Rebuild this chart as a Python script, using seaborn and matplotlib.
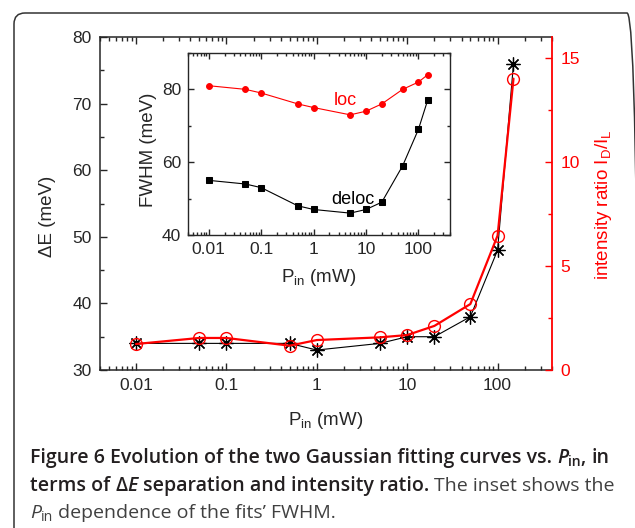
import matplotlib
matplotlib.use("Agg")
import matplotlib.pyplot as plt
import seaborn as sns
from matplotlib.patches import FancyBboxPatch
from matplotlib.transforms import IdentityTransform
from matplotlib.ticker import MultipleLocator, LogLocator, NullFormatter

# power values (mW), shared by main plot and inset
p_in = [0.01, 0.05, 0.1, 0.5, 1, 5, 10, 20, 50, 100, 150]
# main plot: peak separation and intensity ratio
delta_e = [34, 34, 34, 34, 33, 34, 35, 35, 38, 48, 76]
ratio = [1.25, 1.54, 1.54, 1.17, 1.44, 1.57, 1.68, 2.12, 3.17, 6.46, 14.0]
# inset: FWHM of both fits
fwhm_loc = [81, 80, 79, 76, 75, 73, 74, 76, 80, 82, 84]
fwhm_deloc = [55, 54, 53, 48, 47, 46, 47, 49, 59, 69, 77]
x_ticks = [0.01, 0.1, 1, 10, 100]
x_tick_labels = ["0.01", "0.1", "1", "10", "100"]

sns.set_style("ticks")
plt.rcParams['font.family'] = ['Liberation Sans', 'DejaVu Sans']
plt.rcParams['mathtext.fontset'] = 'custom'
plt.rcParams['mathtext.rm'] = 'Liberation Sans'
plt.rcParams['mathtext.it'] = 'Liberation Sans:italic'

fig = plt.figure(figsize=(6.35, 5.28), dpi=100)
ax = fig.add_axes([0.1575, 0.2992, 0.7118, 0.6307])
ax2 = ax.twinx()


def style_log_x(a):
    a.set_xscale('log')
    a.set_xlim(0.004, 400)
    a.set_xticks(x_ticks)
    a.set_xticklabels(x_tick_labels)
    a.xaxis.set_minor_locator(LogLocator(base=10, subs=range(2, 10), numticks=20))
    a.xaxis.set_minor_formatter(NullFormatter())


# main curves
sns.lineplot(x=p_in, y=delta_e, ax=ax, color='black', lw=0.8,
             marker=(8, 2, 0), markersize=10, markeredgecolor='black',
             markeredgewidth=0.9)
sns.lineplot(x=p_in, y=ratio, ax=ax2, color='red', lw=1.6,
             marker='o', markersize=8.5, markerfacecolor='none',
             markeredgecolor='red', markeredgewidth=1.0)

style_log_x(ax)
ax.set_ylim(30, 80)
ax.yaxis.set_major_locator(MultipleLocator(10))
ax.yaxis.set_minor_locator(MultipleLocator(5))
ax.tick_params(which='both', direction='in', top=True, right=False,
               labelsize=12.5, pad=6, width=1)
ax.tick_params(which='major', length=5)
ax.tick_params(which='minor', length=3)
ax.set_xlabel(r'P$_{\mathrm{in}}$ (mW)', fontsize=13.5)
ax.xaxis.set_label_coords(0.5, -0.12)
ax.set_ylabel('ΔE (meV)', fontsize=13.5)
ax.yaxis.set_label_coords(-0.097, 0.46)
for s in ax.spines.values():
    s.set_linewidth(1.1)
ax.spines['right'].set_visible(False)

ax2.set_ylim(0, 16)
ax2.yaxis.set_major_locator(MultipleLocator(5))
ax2.yaxis.set_minor_locator(MultipleLocator(2.5))
ax2.tick_params(which='both', direction='in', colors='red', labelsize=12.5,
                pad=6, width=1)
ax2.tick_params(which='major', length=5)
ax2.tick_params(which='minor', length=3)
for side in ['left', 'top', 'bottom']:
    ax2.spines[side].set_visible(False)
ax2.spines['right'].set_color('red')
ax2.spines['right'].set_linewidth(1.3)
ax2.set_ylabel(r'intensity ratio I$_{\mathrm{D}}$/I$_{\mathrm{L}}$',
               fontsize=13.5, color='red')
ax2.yaxis.set_label_coords(1.091, 0.495)

# inset
ins = fig.add_axes([0.296, 0.555, 0.4126, 0.3447])
ins.set_facecolor('white')
sns.lineplot(x=p_in, y=fwhm_loc, ax=ins, color='red', lw=0.8, marker='o',
             markersize=4.2, markeredgecolor='red')
sns.lineplot(x=p_in, y=fwhm_deloc, ax=ins, color='black', lw=0.8, marker='s',
             markersize=4, markeredgecolor='black')
style_log_x(ins)
ins.set_ylim(40, 90)
ins.set_yticks([40, 60, 80])
ins.yaxis.set_minor_locator(MultipleLocator(10))
ins.tick_params(which='both', direction='in', top=True, right=True,
                labelsize=12.5, pad=5, width=1)
ins.tick_params(which='major', length=4)
ins.tick_params(which='minor', length=2.5)
for s in ins.spines.values():
    s.set_linewidth(1.0)
ins.set_xlabel(r'P$_{\mathrm{in}}$ (mW)', fontsize=13.5)
ins.xaxis.set_label_coords(0.5, -0.175)
ins.set_ylabel('FWHM (meV)', fontsize=13.5)
ins.yaxis.set_label_coords(-0.118, 0.467)
ins.text(4.0, 77.0, 'loc', color='red', fontsize=13, ha='center', va='center')
ins.text(5.5, 49.7, 'deloc', color='black', fontsize=13, ha='center', va='center')

# rounded frame around figure and caption
frame = FancyBboxPatch((14, -40), 624, 528 - 13 + 40,
                       boxstyle="round,pad=0,rounding_size=11",
                       transform=IdentityTransform(), fill=False,
                       edgecolor='#333333', linewidth=1.1)
fig.patches.append(frame)

# caption, drawn piece by piece
renderer = fig.canvas.get_renderer()
cap_size = 14
W, H = fig.bbox.width, fig.bbox.height


def run_width(t):
    return t.get_window_extent(renderer).width


def caption_line(x_px, y_px, runs):
    x = x_px
    for text, opts in runs:
        weight = opts.get('weight', 'normal')
        if text == ' ':
            probe = fig.text(0, 0, 'a a', family='Open Sans', fontsize=cap_size,
                             weight=weight)
            probe2 = fig.text(0, 0, 'aa', family='Open Sans', fontsize=cap_size,
                              weight=weight)
            x += run_width(probe) - run_width(probe2)
            probe.remove()
            probe2.remove()
            continue
        size = cap_size * opts.get('scale', 1.0)
        dy = opts.get('dy', 0) * cap_size
        t = fig.text(x / W, (y_px - dy) / H, text, family='Open Sans',
                     fontsize=size, weight=weight,
                     style=opts.get('style', 'normal'),
                     color=opts.get('color', '#231f20'), va='baseline')
        x += run_width(t)


B = {'weight': 'semibold'}
BI = {'weight': 'semibold', 'style': 'italic'}
BS = {'weight': 'semibold', 'scale': 0.72, 'dy': 0.22}
R = {'color': '#404040'}
RI = {'style': 'italic', 'color': '#404040'}
RS = {'scale': 0.72, 'dy': 0.22, 'color': '#404040'}

caption_line(30, 528 - 463, [
    ('Figure 6 Evolution of the two Gaussian fitting curves vs.', B), (' ', B),
    ('P', BI), ('in', BS), (',', B), (' ', B), ('in', B)])
caption_line(30, 528 - 491, [
    ('terms of', B), (' ', B), ('Δ', B), ('E', BI), (' ', B),
    ('separation and intensity ratio.', B), (' ', R),
    ('The inset shows the', R)])
caption_line(30, 528 - 518, [
    ('P', RI), ('in', RS), (' ', R), ('dependence of the fits’ FWHM.', R)])

fig.savefig('out.png', dpi=100)
